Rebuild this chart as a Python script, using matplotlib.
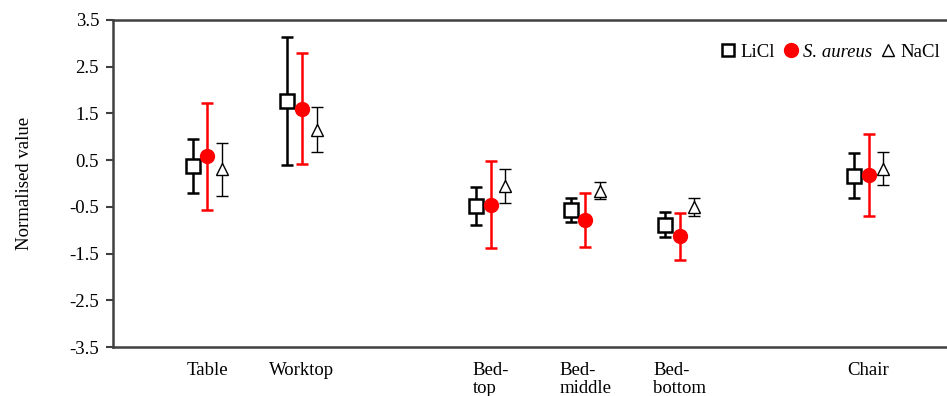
import matplotlib
matplotlib.use("Agg")
import matplotlib.pyplot as plt
from matplotlib.lines import Line2D
import numpy as np

plt.rcParams['font.family'] = ['Liberation Serif', 'DejaVu Serif']

categories = ["Table", "Worktop", "Bed-\ntop", "Bed-\nmiddle", "Bed-\nbottom", "Chair"]
slots = [1, 2, 4, 5, 6, 8]

licl = [0.38, 1.77, -0.48, -0.57, -0.88, 0.17]
licl_err = [0.58, 1.37, 0.41, 0.25, 0.27, 0.48]
saureus = [0.58, 1.60, -0.45, -0.78, -1.13, 0.19]
saureus_err = [1.14, 1.19, 0.93, 0.58, 0.50, 0.88]
nacl = [0.30, 1.15, -0.05, -0.15, -0.50, 0.32]
nacl_err = [0.56, 0.48, 0.37, 0.19, 0.20, 0.36]

yticks = [-3.5, -2.5, -1.5, -0.5, 0.5, 1.5, 2.5, 3.5]

fig = plt.figure(figsize=(9.47, 3.96), dpi=100)
ax = fig.add_axes([113/947, 1-347/396, 1-113/947, (347-20)/396])

x = np.array(slots, dtype=float)
off = 0.155

ax.errorbar(x - off, licl, yerr=licl_err, fmt='s', mfc='white', mec='black', mew=1.8,
            ms=9.5, ecolor='black', elinewidth=1.8, capsize=4, capthick=1.8, label='LiCl', zorder=3)
ax.errorbar(x, saureus, yerr=saureus_err, fmt='o', mfc='red', mec='red',
            ms=10, ecolor='red', elinewidth=1.8, capsize=4, capthick=1.8, label='S. aureus', zorder=4)
ax.errorbar(x + off, nacl, yerr=nacl_err, fmt='^', mfc='white', mec='black', mew=1.0,
            ms=8, ecolor='black', elinewidth=1.0, capsize=4, capthick=1.0, label='NaCl', zorder=3)

fs = 13.5
ax.set_xlim(0, 8.83)
ax.set_ylim(-3.5, 3.5)
ax.set_yticks(yticks)
ax.set_yticklabels([f"{v:.1f}" for v in yticks])
ax.set_xticks(slots)
ax.set_xticklabels(categories, multialignment='left', linespacing=1.05)
ax.tick_params(axis='x', length=0, pad=11, labelsize=fs)
ax.tick_params(axis='y', direction='out', length=5, width=1.5, color='#404040', labelsize=fs, pad=5)

for s in ['left', 'bottom', 'top']:
    ax.spines[s].set_color('#404040')
    ax.spines[s].set_linewidth(1.8)
ax.spines['right'].set_visible(False)

ax.set_ylabel("Normalised value", fontsize=fs)
ax.yaxis.set_label_coords(-0.096, 0.5)

h = [Line2D([], [], marker='s', ls='', mfc='white', mec='black', mew=1.8, ms=8.5),
     Line2D([], [], marker='o', ls='', mfc='red', mec='red', ms=10),
     Line2D([], [], marker='^', ls='', mfc='white', mec='black', mew=1.0, ms=8)]
leg = fig.legend(h, ['LiCl', 'S. aureus', 'NaCl'], loc='center right',
                 bbox_to_anchor=(951/947, 1-52/396), ncol=3, frameon=False, borderpad=0.1,
                 handlelength=0.7, handletextpad=0.3, columnspacing=0.5, fontsize=fs)
leg.get_texts()[1].set_fontstyle('italic')

fig.savefig("out.png", dpi=100)
